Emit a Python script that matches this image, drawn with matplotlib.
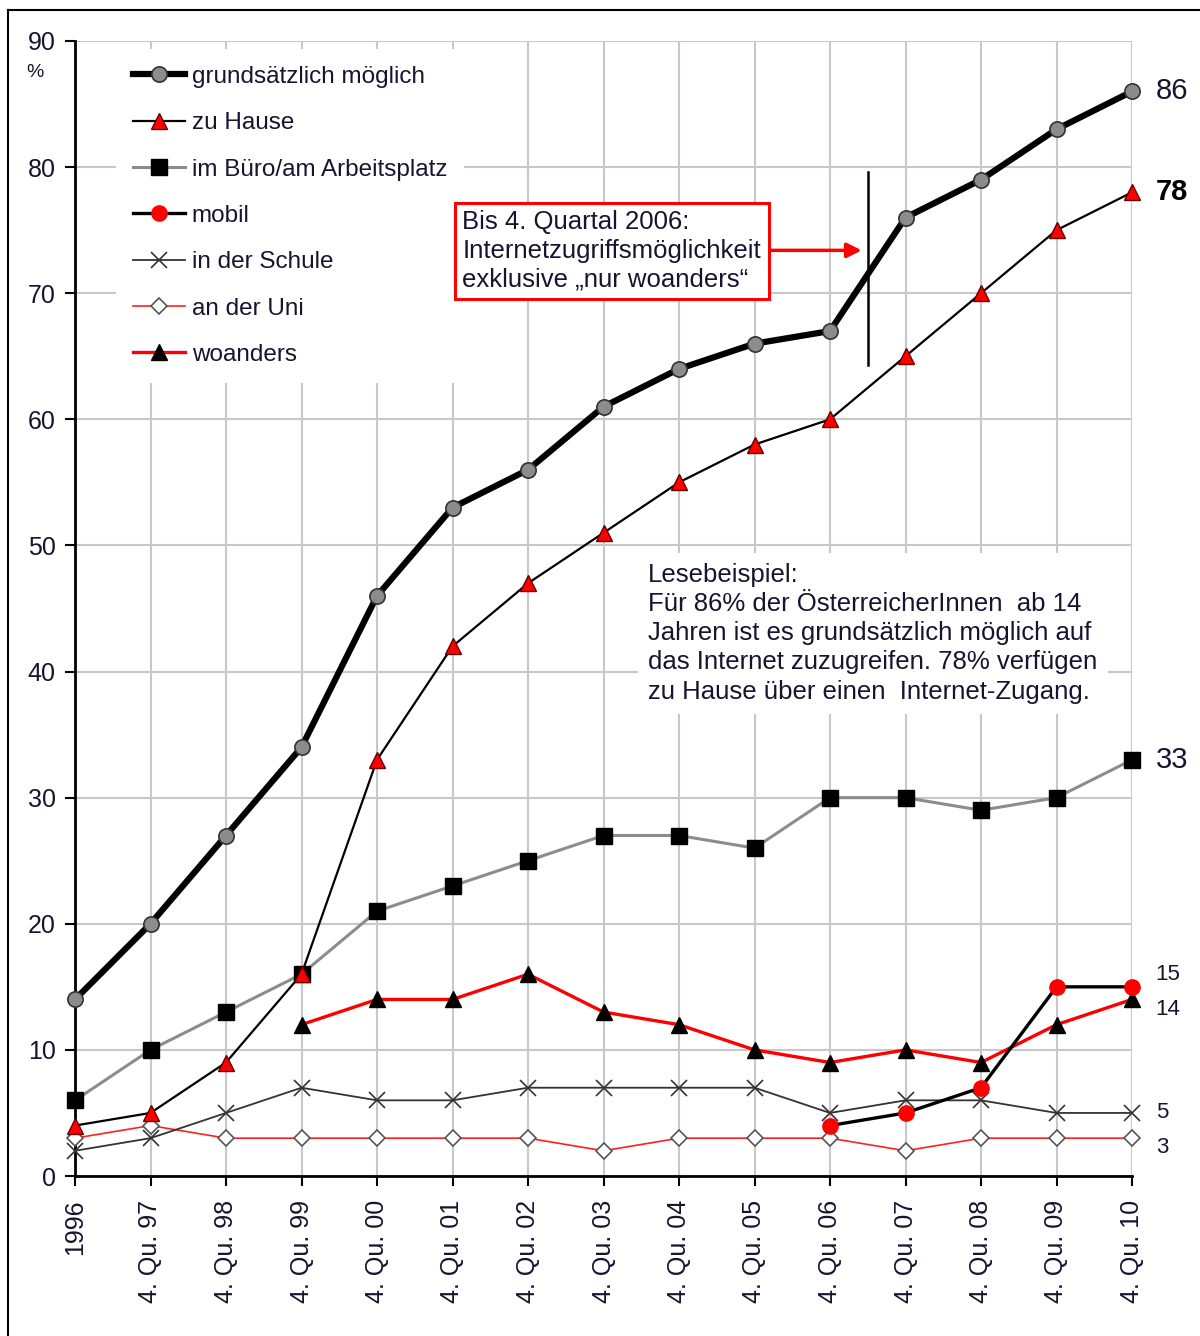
"""Internetzugang in Österreich nach Ort des Zugriffs, 1996 bis 4. Quartal 2010."""

import matplotlib

matplotlib.use("Agg")
import matplotlib.pyplot as plt
import numpy as np
from matplotlib.lines import Line2D

plt.rcParams["font.family"] = ["Liberation Sans", "DejaVu Sans"]

nan = np.nan

perioden = [
    "1996", "4. Qu. 97", "4. Qu. 98", "4. Qu. 99", "4. Qu. 00",
    "4. Qu. 01", "4. Qu. 02", "4. Qu. 03", "4. Qu. 04", "4. Qu. 05",
    "4. Qu. 06", "4. Qu. 07", "4. Qu. 08", "4. Qu. 09", "4. Qu. 10",
]
grundsaetzlich = [14, 20, 27, 34, 46, 53, 56, 61, 64, 66, 67, 76, 79, 83, 86]
zu_hause = [4, 5, 9, 16, 33, 42, 47, 51, 55, 58, 60, 65, 70, 75, 78]
buero = [6, 10, 13, 16, 21, 23, 25, 27, 27, 26, 30, 30, 29, 30, 33]
mobil = [nan] * 10 + [4, 5, 7, 15, 15]
schule = [2, 3, 5, 7, 6, 6, 7, 7, 7, 7, 5, 6, 6, 5, 5]
uni = [3, 4, 3, 3, 3, 3, 3, 2, 3, 3, 3, 2, 3, 3, 3]
woanders = [nan] * 3 + [12, 14, 14, 16, 13, 12, 10, 9, 10, 9, 12, 14]

TEXT = "#151530"

fig = plt.figure(figsize=(12, 13.36), dpi=100)
ax = fig.add_axes([75 / 1200, 1 - 1176 / 1336, 1057 / 1200, 1135 / 1336])

x = np.arange(len(perioden))
common = dict(clip_on=False)

ax.plot(x, buero, color="#8c8c8c", lw=2.2, marker="s", ms=11,
        mfc="black", mec="black", label="im Büro/am Arbeitsplatz", zorder=4, **common)
ax.plot(x, uni, color="#ff2020", lw=1.2, marker="D", ms=8,
        mfc="white", mec="#555555", mew=1.2, label="an der Uni", zorder=3, **common)
ax.plot(x, schule, color="#333333", lw=1.3, marker="x", ms=11, mew=1.2,
        mec="#333333", label="in der Schule", zorder=3, **common)
ax.plot(x, woanders, color="#ff0000", lw=2.4, marker="^", ms=12,
        mfc="black", mec="black", label="woanders", zorder=4, **common)
ax.plot(x, mobil, color="black", lw=2.4, marker="o", ms=11,
        mfc="#ff0000", mec="#ff0000", label="mobil", zorder=5, **common)
ax.plot(x, zu_hause, color="black", lw=1.6, marker="^", ms=12,
        mfc="#ff0000", mec="#660000", label="zu Hause", zorder=5, **common)
ax.plot(x, grundsaetzlich, color="black", lw=4.5, marker="o", ms=11,
        mfc="#8c8c8c", mec="#333333", mew=1.2, label="grundsätzlich möglich",
        zorder=6, **common)

ax.set_xlim(0, 14)
ax.set_ylim(0, 90)
ax.set_yticks(range(0, 91, 10))
ax.set_xticks(x)
ax.set_xticklabels(perioden, rotation=90, va="top", ha="center")
ax.tick_params(axis="both", labelsize=18, colors="black", length=7, width=1.5,
               labelcolor=TEXT)
ax.tick_params(axis="y", pad=7)
ax.tick_params(axis="x", pad=10)
ax.grid(True, color="#c8c8c8", lw=1.5, zorder=0)
ax.set_axisbelow(True)
for side in ("top", "right"):
    ax.spines[side].set_visible(False)
for side in ("left", "bottom"):
    ax.spines[side].set_linewidth(2)
ax.text(-0.53, 87.5, "%", ha="center", va="center", fontsize=14, color=TEXT,
        clip_on=False)

# Legende in der Reihenfolge des Originals
order = ["grundsätzlich möglich", "zu Hause", "im Büro/am Arbeitsplatz", "mobil",
         "in der Schule", "an der Uni", "woanders"]
handles, labels = ax.get_legend_handles_labels()
lookup = dict(zip(labels, handles))
leg = ax.legend([lookup[l] for l in order], order, loc="upper left",
                bbox_to_anchor=(0.039, 0.993), borderaxespad=0, fontsize=17.5,
                frameon=True, fancybox=False, framealpha=1, edgecolor="none",
                facecolor="white", handlelength=2.15, handletextpad=0.25,
                labelspacing=1.0, borderpad=0.7)
leg.set_zorder(7)
for t in leg.get_texts():
    t.set_color(TEXT)

# Endwerte rechts
endwerte = [
    (grundsaetzlich[-1], 0, 21, "normal"),
    (zu_hause[-1], 0, 21, "bold"),
    (buero[-1], 0, 21, "normal"),
    (mobil[-1], 9, 16, "normal"),
    (woanders[-1], -7, 16, "normal"),
    (schule[-1], 0, 16, "normal"),
    (uni[-1], -7, 16, "normal"),
]
for wert, dy, size, weight in endwerte:
    ax.annotate(f"{wert:.0f}", xy=(14, wert), xytext=(17, dy),
                textcoords="offset points", ha="left", va="center",
                fontsize=size, fontweight=weight,
                color=TEXT if weight == "normal" else "black",
                annotation_clip=False)

# Hinweis zum Bruch in der Zeitreihe
ax.text(5.13, 73.35,
        "Bis 4. Quartal 2006:\nInternetzugriffsmöglichkeit\nexklusive \u201enur woanders\u201c",
        ha="left", va="center", fontsize=18.5, color=TEXT, linespacing=1.25,
        bbox=dict(boxstyle="square,pad=0.3", facecolor="white", edgecolor="#ff0000",
                  lw=2.2), zorder=8)
ax.annotate("", xy=(10.42, 73.4), xytext=(9.2, 73.4),
            arrowprops=dict(arrowstyle="-|>", color="#ff0000", lw=2.5,
                            mutation_scale=22, shrinkA=0, shrinkB=0), zorder=8)
ax.plot([10.5, 10.5], [64.3, 79.6], color="black", lw=1.8, zorder=7)

ax.text(7.59, 48.6,
        "Lesebeispiel:\nFür 86% der ÖsterreicherInnen  ab 14\n"
        "Jahren ist es grundsätzlich möglich auf\n"
        "das Internet zuzugreifen. 78% verfügen\n"
        "zu Hause über einen  Internet-Zugang.",
        ha="left", va="top", fontsize=18.5, color=TEXT, linespacing=1.27,
        bbox=dict(boxstyle="square,pad=0.4", facecolor="white", edgecolor="none"),
        zorder=2)

# Rahmen um die Grafik
fig.add_artist(Line2D([8 / 1200, 8 / 1200], [0, 1 - 10 / 1336],
                      transform=fig.transFigure, color="black", lw=1.5))
fig.add_artist(Line2D([8 / 1200, 1], [1 - 10 / 1336, 1 - 10 / 1336],
                      transform=fig.transFigure, color="black", lw=1.5))

fig.savefig("out.png", dpi=100)
